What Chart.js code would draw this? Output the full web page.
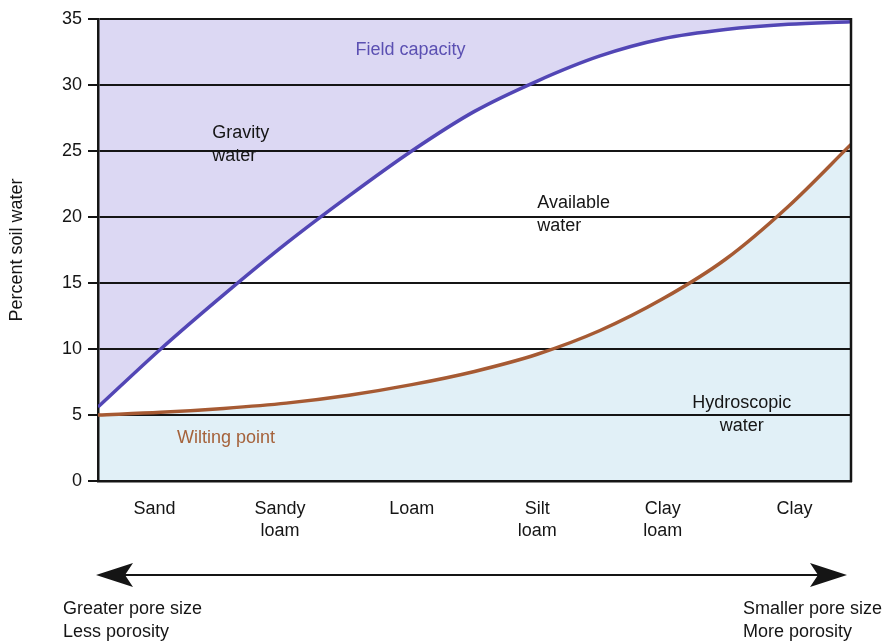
<!DOCTYPE html>
<html>
<head>
<meta charset="utf-8">
<title>Percent soil water by soil texture</title>
<script src="https://cdn.jsdelivr.net/npm/chart.js@4.4.1/dist/chart.umd.min.js"></script>
<style>
  html, body { margin: 0; padding: 0; background: #fff; }
  #wrap { width: 889px; height: 642px; }
</style>
</head>
<body>
<div id="wrap"><canvas id="soilChart" width="889" height="642"></canvas></div>
<script>
// Soil textures along the x axis (multi-line labels)
const soilTypes = [['Sand'], ['Sandy', 'loam'], ['Loam'], ['Silt', 'loam'], ['Clay', 'loam'], ['Clay']];
const soilTickX = [0.45, 1.45, 2.5, 3.5, 4.5, 5.55];

// Curves sampled every half texture step
const sampleX = [0, 0.5, 1, 1.5, 2, 2.5, 3, 3.5, 4, 4.5, 5, 5.5, 6];
const fieldCapacity = [5.6, 10.0, 14.1, 18.0, 21.6, 25.0, 28.0, 30.3, 32.2, 33.5, 34.2, 34.6, 34.8];
const wiltingPoint = [5.0, 5.2, 5.5, 5.9, 6.5, 7.3, 8.3, 9.6, 11.4, 13.8, 16.8, 20.8, 25.5];

const yTicks = [0, 5, 10, 15, 20, 25, 30, 35];

(function(){
  'use strict';

  const FONT = "'Liberation Sans', Arial, Helvetica, sans-serif";
  const INK = '#151515';

  const LAVENDER = '#dcd8f3';
  const ICE = '#e1f0f7';
  const FC_LINE = '#5246b5';
  const WP_LINE = '#a65a33';

  function points(ys){
    return sampleX.map((x, i) => ({ x: x, y: ys[i] }));
  }

  // Text labels placed in data coordinates
  const notes = [
    { lines: ['Field capacity'], x: 2.49, y: 32.65, align: 'center', color: '#5b50b2' },
    { lines: ['Gravity', 'water'], x: 0.91, y: 25.5, align: 'left', color: INK },
    { lines: ['Available', 'water'], x: 3.5, y: 20.2, align: 'left', color: INK },
    { lines: ['Hydroscopic', 'water'], x: 5.13, y: 5.0, align: 'center', color: INK },
    { lines: ['Wilting point'], x: 0.63, y: 3.26, align: 'left', color: '#a5623b' }
  ];

  function arrowHead(ctx, tipX, y, dir){
    ctx.beginPath();
    ctx.moveTo(tipX, y);
    ctx.lineTo(tipX - dir * 37, y - 12);
    ctx.lineTo(tipX - dir * 29, y);
    ctx.lineTo(tipX - dir * 37, y + 12);
    ctx.closePath();
    ctx.fill();
  }

  const extras = {
    id: 'extras',
    afterDraw(chart){
      const ctx = chart.ctx;
      const a = chart.chartArea;
      const xs = chart.scales.x, ys = chart.scales.y;
      ctx.save();

      // right frame edge
      ctx.strokeStyle = INK;
      ctx.lineWidth = 2.5;
      ctx.beginPath();
      ctx.moveTo(a.right, a.top - 1);
      ctx.lineTo(a.right, a.bottom + 1);
      ctx.stroke();

      // region notes
      ctx.font = '18px ' + FONT;
      ctx.textBaseline = 'middle';
      notes.forEach(n => {
        const px = xs.getPixelForValue(n.x);
        const py = ys.getPixelForValue(n.y);
        const lh = 23;
        const y0 = py - (n.lines.length - 1) * lh / 2;
        ctx.fillStyle = n.color;
        ctx.textAlign = n.align;
        n.lines.forEach((t, i) => ctx.fillText(t, px, y0 + i * lh));
      });

      // double-headed arrow under the axis
      const ay = a.bottom + 94;
      const left = a.left - 2, right = a.right - 4;
      ctx.fillStyle = INK;
      ctx.strokeStyle = INK;
      ctx.lineWidth = 2.2;
      ctx.beginPath();
      ctx.moveTo(left + 20, ay);
      ctx.lineTo(right - 20, ay);
      ctx.stroke();
      arrowHead(ctx, left, ay, -1);
      arrowHead(ctx, right, ay, 1);

      // pore size captions
      ctx.textAlign = 'left';
      ctx.fillStyle = INK;
      ctx.fillText('Greater pore size', a.left - 35, ay + 34);
      ctx.fillText('Less porosity', a.left - 35, ay + 57);
      ctx.fillText('Smaller pore size', a.right - 108, ay + 34);
      ctx.fillText('More porosity', a.right - 108, ay + 57);

      ctx.restore();
    }
  };

  function render(){
    const el = document.getElementById('soilChart');
    if (!el || typeof Chart === 'undefined') return;

    new Chart(el, {
      type: 'line',
      data: {
        datasets: [
          {
            label: 'Field capacity',
            data: points(fieldCapacity),
            borderColor: FC_LINE,
            borderWidth: 3.5,
            backgroundColor: LAVENDER,
            fill: 'end',
            pointRadius: 0,
            cubicInterpolationMode: 'monotone'
          },
          {
            label: 'Wilting point',
            data: points(wiltingPoint),
            borderColor: WP_LINE,
            borderWidth: 3.5,
            backgroundColor: ICE,
            fill: 'origin',
            pointRadius: 0,
            cubicInterpolationMode: 'monotone'
          }
        ]
      },
      options: {
        responsive: false,
        animation: false,
        layout: { padding: { left: 0, top: 19, right: 38, bottom: 101 } },
        plugins: {
          legend: { display: false },
          tooltip: { enabled: false },
          filler: { drawTime: 'beforeDraw' }
        },
        scales: {
          x: {
            type: 'linear',
            min: 0,
            max: 6,
            afterBuildTicks: s => { s.ticks = soilTickX.map(v => ({ value: v })); },
            afterFit: s => { s.height = 60; },
            ticks: {
              callback: (v, i) => soilTypes[i],
              color: INK,
              font: { family: FONT, size: 18, lineHeight: 22 / 18 },
              padding: 17,
              maxRotation: 0,
              autoSkip: false
            },
            grid: { display: false, drawTicks: false },
            border: { display: true, color: INK, width: 2.5 }
          },
          y: {
            min: 0,
            max: 35,
            afterBuildTicks: s => { s.ticks = yTicks.map(v => ({ value: v })); },
            afterFit: s => { s.width = 98; },
            ticks: {
              color: INK,
              font: { family: FONT, size: 18 },
              padding: 6
            },
            grid: {
              color: INK,
              lineWidth: 2,
              tickLength: 10,
              tickColor: INK,
              tickWidth: 2
            },
            border: { display: true, color: INK, width: 2.5 },
            title: {
              display: true,
              text: 'Percent soil water',
              color: INK,
              font: { family: FONT, size: 18 },
              padding: { top: 6, bottom: 0 }
            }
          }
        }
      },
      plugins: [extras]
    });
  }

  render();
})();
</script>
</body>
</html>
